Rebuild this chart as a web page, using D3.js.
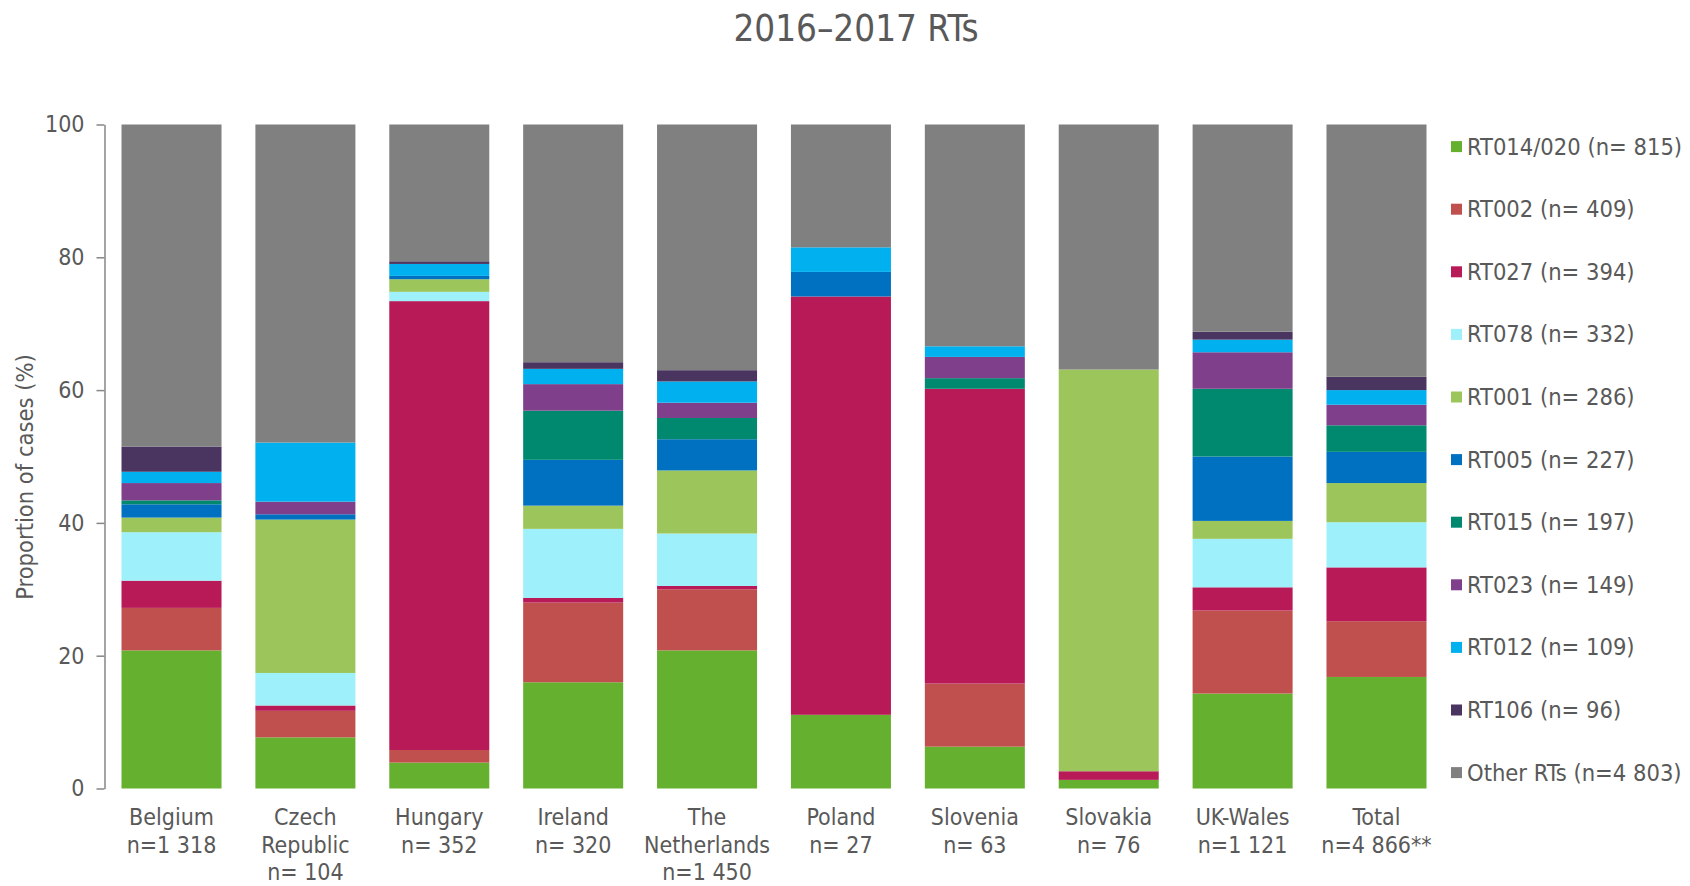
<!DOCTYPE html>
<html>
<head>
<meta charset="utf-8">
<script src="https://cdn.jsdelivr.net/npm/d3@7"></script>
<style>
  body { margin: 0; background: #fff; }
  svg text { font-family: "DejaVu Sans Condensed", "DejaVu Sans", sans-serif; font-stretch: condensed; fill: #595959; }
</style>
</head>
<body>
<script>
// categories (bar labels, split in lines)
const countries = ['Belgium', 'Czech Republic', 'Hungary', 'Ireland', 'The Netherlands', 'Poland', 'Slovenia', 'Slovakia', 'UK-Wales', 'Total']
const countryLabels = [
  ['Belgium', 'n=1 318'],
  ['Czech', 'Republic', 'n= 104'],
  ['Hungary', 'n= 352'],
  ['Ireland', 'n= 320'],
  ['The', 'Netherlands', 'n=1 450'],
  ['Poland', 'n= 27'],
  ['Slovenia', 'n= 63'],
  ['Slovakia', 'n= 76'],
  ['UK-Wales', 'n=1 121'],
  ['Total', 'n=4 866**']
]

// series, bottom to top
const rtKeys = ['RT014/020', 'RT002', 'RT027', 'RT078', 'RT001', 'RT005', 'RT015', 'RT023', 'RT012', 'RT106', 'Other RTs']
const legendLabels = ['RT014/020 (n= 815)', 'RT002 (n= 409)', 'RT027 (n= 394)', 'RT078 (n= 332)', 'RT001 (n= 286)',
  'RT005 (n= 227)', 'RT015 (n= 197)', 'RT023 (n= 149)', 'RT012 (n= 109)', 'RT106 (n= 96)', 'Other RTs (n=4 803)']
const rtColors = ['#65b12f', '#c0504d', '#b81a58', '#9ef0fa', '#9cc65b', '#0070c0', '#00896f', '#803f8b', '#00b0ef', '#4a3561', '#808080']

// proportion of cases (%) per country, same order as countries
const rt014 = [20.8, 7.7, 3.9, 16.0, 20.8, 11.1, 6.3, 1.3, 14.3, 16.8]
const rt002 = [6.4, 4.0, 1.9, 12.0, 9.2, 0, 9.5, 0, 12.5, 8.4]
const rt027 = [4.1, 0.8, 67.6, 0.7, 0.5, 63.0, 44.4, 1.3, 3.5, 8.1]
const rt078 = [7.3, 4.9, 1.4, 10.4, 7.9, 0, 0, 0, 7.3, 6.8]
const rt001 = [2.2, 23.1, 1.9, 3.5, 9.5, 0, 0, 60.5, 2.7, 5.9]
const rt005 = [2.0, 0.8, 0.5, 6.9, 4.7, 3.7, 0, 0, 9.7, 4.7]
const rt015 = [0.6, 0, 0, 7.4, 3.2, 0, 1.6, 0, 10.2, 4.0]
const rt023 = [2.6, 1.9, 0, 4.0, 2.3, 0, 3.2, 0, 5.5, 3.1]
const rt012 = [1.7, 8.9, 1.8, 2.3, 3.2, 3.7, 1.6, 0, 1.9, 2.2]
const rt106 = [3.8, 0, 0.4, 1.0, 1.7, 0, 0, 0, 1.2, 2.0]
const other = [48.5, 47.9, 20.6, 35.8, 37.0, 18.5, 33.4, 36.9, 31.2, 38.0]

const yTicks = [0, 20, 40, 60, 80, 100]

const seriesValues = [rt014, rt002, rt027, rt078, rt001, rt005, rt015, rt023, rt012, rt106, other]

// build table for d3.stack
const table = countries.map((c, i) => {
  let row = { country: c }
  rtKeys.forEach((k, j) => { row[k] = seriesValues[j][i] })
  return row
})

const fullWidth = 1690
const fullHeight = 886
const margins = { left: 104.5, top: 124.5, bottom: 97.5 }
const plotRight = 1443.5

const svg = d3.select('body')
  .append('svg')
  .attr('width', fullWidth)
  .attr('height', fullHeight)

const x = d3.scaleBand()
  .domain(countries)
  .range([margins.left, plotRight])
  .paddingInner(0.253)
  .paddingOuter(0.127)

const y = d3.scaleLinear()
  .domain([0, 100])
  .range([fullHeight - margins.bottom, margins.top])

const color = d3.scaleOrdinal()
  .domain(rtKeys)
  .range(rtColors)

const stacked = d3.stack().keys(rtKeys)(table)

// BARS
svg.append('g')
  .selectAll('g')
  .data(stacked)
  .enter()
  .append('g')
  .attr('fill', d => color(d.key))
  .selectAll('rect')
  .data(d => d)
  .enter()
  .append('rect')
  .attr('x', d => x(d.data.country))
  .attr('width', x.bandwidth())
  .attr('y', d => y(d[1]))
  .attr('height', d => y(d[0]) - y(d[1]))

// Y AXIS
const yAxis = svg.append('g')
  .attr('transform', `translate(${margins.left},0)`)
  .call(d3.axisLeft(y).tickValues(yTicks).tickSize(8).tickPadding(12).tickSizeOuter(0))
yAxis.select('.domain').attr('stroke', '#868686').attr('stroke-width', 1.5)
yAxis.selectAll('.tick line').attr('stroke', '#868686').attr('stroke-width', 1.5)
yAxis.selectAll('.tick text').style('font-size', '23px').attr('fill', '#595959')

svg.append('text')
  .attr('transform', 'translate(33,477) rotate(-90)')
  .attr('text-anchor', 'middle')
  .style('font-size', '23.5px')
  .text('Proportion of cases (%)')

// X LABELS
const labels = svg.append('g')
  .selectAll('text')
  .data(countries)
  .enter()
  .append('text')
  .attr('text-anchor', 'middle')
  .attr('x', d => x(d) + x.bandwidth() / 2)
  .attr('y', 825)
  .style('font-size', '23px')

labels.selectAll('tspan')
  .data((d, i) => countryLabels[i])
  .enter()
  .append('tspan')
  .attr('x', function () { return d3.select(this.parentNode).attr('x') })
  .attr('dy', (d, i) => i === 0 ? 0 : 27.5)
  .text(d => d)

// TITLE
svg.append('text')
  .attr('x', 856)
  .attr('y', 41)
  .attr('text-anchor', 'middle')
  .style('font-size', '36.5px')
  .text('2016\u20132017 RTs')

// LEGEND
const legend = svg.append('g')
  .selectAll('g')
  .data(rtKeys)
  .enter()
  .append('g')
  .attr('transform', (d, i) => `translate(1451,${146.6 + i * 62.6})`)

legend.append('rect')
  .attr('x', 0)
  .attr('y', -5.5)
  .attr('width', 11)
  .attr('height', 11)
  .attr('fill', d => color(d))

legend.append('text')
  .attr('x', 16)
  .attr('y', 8)
  .style('font-size', '23.5px')
  .text((d, i) => legendLabels[i])
</script>
</body>
</html>
